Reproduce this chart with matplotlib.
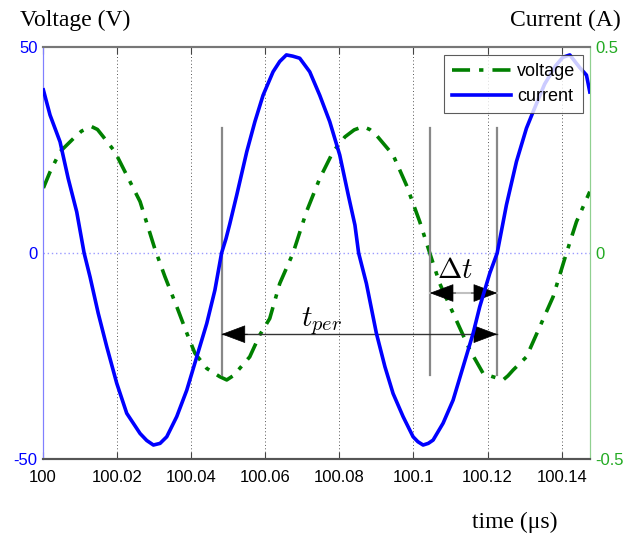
import numpy as np
import matplotlib
matplotlib.use('Agg')
import matplotlib.pyplot as plt

plt.rcParams['font.family'] = ['Liberation Sans', 'DejaVu Sans']
plt.rcParams['mathtext.fontset'] = 'cm'
plt.rcParams['axes.unicode_minus'] = False

# voltage (V)
t_volt = [100.0001, 100.0019, 100.0046, 100.0082, 100.0104, 100.0118, 100.0131, 100.0147,
          100.0163, 100.0194, 100.0226, 100.0262, 100.0302, 100.0329, 100.0361, 100.0388,
          100.0410, 100.0442, 100.0477, 100.0496, 100.0513, 100.0531, 100.0558, 100.0585,
          100.0612, 100.0639, 100.0675, 100.0711, 100.0747, 100.0783, 100.0815, 100.0840,
          100.0864, 100.0882, 100.0900, 100.0945, 100.0981, 100.1017, 100.1044, 100.1071,
          100.1107, 100.1152, 100.1188, 100.1210, 100.1242, 100.1255, 100.1269, 100.1305,
          100.1341, 100.1377, 100.1413, 100.1440, 100.1476]
volt = [15.8, 19.7, 24.6, 27.8, 29.6, 30.2, 30.7, 30.0,
        28.2, 24.6, 18.9, 12.5, 1.0, -5.7, -13.0, -19.4,
        -24.3, -28.0, -30.0, -30.8, -29.8, -28.0, -25.2, -19.9,
        -15.9, -7.4, 0.0, 10.0, 18.1, 24.6, 28.2, 29.9,
        30.7, 30.0, 28.6, 23.8, 16.5, 7.6, 0.0, -7.4,
        -14.6, -23.5, -29.2, -29.9, -30.8, -29.8, -28.4, -25.2,
        -17.9, -10.6, 0.0, 7.6, 14.9]

# current (A)
t_curr = [100.0001, 100.0019, 100.0046, 100.0068, 100.0091, 100.0111, 100.0127, 100.0149,
          100.0172, 100.0199, 100.0226, 100.0262, 100.0280, 100.0298, 100.0316, 100.0334,
          100.0361, 100.0388, 100.0415, 100.0442, 100.0464, 100.0482, 100.0494, 100.0504,
          100.0523, 100.0550, 100.0572, 100.0594, 100.0621, 100.0639, 100.0657, 100.0674,
          100.0693, 100.0720, 100.0747, 100.0774, 100.0801, 100.0824, 100.0842, 100.0852,
          100.0873, 100.0900, 100.0923, 100.0945, 100.0972, 100.0999, 100.1012, 100.1026,
          100.1040, 100.1053, 100.1080, 100.1107, 100.1134, 100.1161, 100.1179, 100.1206,
          100.1226, 100.1251, 100.1278, 100.1305, 100.1323, 100.1354, 100.1384, 100.1403,
          100.1422, 100.1449, 100.1467, 100.1476]
curr = [0.396, 0.335, 0.270, 0.181, 0.100, 0.000, -0.058, -0.146,
        -0.227, -0.316, -0.389, -0.438, -0.455, -0.466, -0.462, -0.446,
        -0.397, -0.333, -0.252, -0.171, -0.090, 0.000, 0.035, 0.070,
        0.141, 0.246, 0.319, 0.383, 0.440, 0.465, 0.481, 0.478,
        0.473, 0.440, 0.383, 0.319, 0.238, 0.141, 0.068, 0.000,
        -0.074, -0.195, -0.276, -0.341, -0.397, -0.446, -0.458, -0.466,
        -0.462, -0.454, -0.413, -0.357, -0.276, -0.195, -0.130, -0.049,
        0.000, 0.117, 0.222, 0.303, 0.343, 0.410, 0.455, 0.475,
        0.481, 0.450, 0.432, 0.391]

x_ticks = [100, 100.02, 100.04, 100.06, 100.08, 100.1, 100.12, 100.14]
x_labels = ['100', '100.02', '100.04', '100.06', '100.08', '100.1', '100.12', '100.14']

# markers: current zero crossings and voltage zero crossing
t_i0 = [100.0482, 100.1226]
t_v0 = 100.1044

green = '#008000'
blue = '#0000ff'

fig = plt.figure(figsize=(6.39, 5.35), dpi=100)
ax = fig.add_axes([0.0673, 0.142, 0.8557, 0.770])
ax2 = ax.twinx()

lv, = ax.plot(t_volt, volt, color=green, lw=2.6, ls=(0, (5, 2.5, 1.2, 2.5)), label='voltage', zorder=3)
li, = ax2.plot(t_curr, curr, color=blue, lw=2.6, label='current', zorder=3)

ax.set_xlim(100, 100.1476)
ax.set_ylim(-50, 50)
ax2.set_ylim(-0.5, 0.5)
ax.set_xticks(x_ticks)
ax.set_xticklabels(x_labels)
ax.set_yticks([-50, 0, 50])
ax.set_yticklabels(['-50', '0', '50'])
ax2.set_yticks([-0.5, 0, 0.5])
ax2.set_yticklabels(['-0.5', '0', '0.5'])

for xt in x_ticks[1:]:
    ax.axvline(xt, color='#555555', lw=0.7, ls=(0, (1, 2.5)), zorder=1)
ax.axhline(0, color='#9a9aff', lw=1.0, ls=(0, (1, 2)), zorder=1)

ax.tick_params(axis='x', direction='in', top=True, labelsize=12, pad=8, length=5, color='#444444')
ax.tick_params(axis='y', direction='in', labelsize=12, labelcolor=blue, colors=blue, length=0, pad=4)
ax2.tick_params(axis='y', direction='in', labelsize=12, labelcolor='#22aa22', length=0, pad=4)

for a in (ax, ax2):
    a.spines['top'].set_color('#777777')
    a.spines['bottom'].set_color('#555555')
    a.spines['top'].set_linewidth(1.5)
    a.spines['bottom'].set_linewidth(1.5)
    a.spines['left'].set_color('#8080ff')
    a.spines['right'].set_color('#90d090')

# annotation lines
for tx in [t_i0[0], t_v0, t_i0[1]]:
    ax.plot([tx, tx], [-29.6, 30.3], color='#888888', lw=1.6, zorder=4)

ax.plot([t_i0[0], t_i0[1]], [-19.7, -19.7], color='#333333', lw=1.0, zorder=4)
ax.plot([t_v0, t_i0[1]], [-9.7, -9.7], color='#c0c0c0', lw=1.5, zorder=4)

aprops = dict(arrowstyle='-|>,head_length=0.8,head_width=0.3', color='black',
              mutation_scale=20, shrinkA=0, shrinkB=0, lw=0.5)
ax.annotate('', xy=(t_i0[0], -19.7), xytext=(t_i0[0] + 0.007, -19.7), arrowprops=aprops, zorder=5)
ax.annotate('', xy=(t_i0[1], -19.7), xytext=(t_i0[1] - 0.007, -19.7), arrowprops=aprops, zorder=5)
ax.annotate('', xy=(t_v0, -9.7), xytext=(t_v0 + 0.007, -9.7), arrowprops=aprops, zorder=5)
ax.annotate('', xy=(t_i0[1], -9.7), xytext=(t_i0[1] - 0.007, -9.7), arrowprops=aprops, zorder=5)

ax.text(100.0753, -16.5, r'$t_{per}$', fontsize=21, ha='center', va='center', zorder=6)
ax.text(100.1111, -4.0, r'$\Delta t$', fontsize=21, ha='center', va='center', zorder=6)

leg = ax2.legend([lv, li], ['voltage', 'current'], loc='upper right', bbox_to_anchor=(0.988, 0.981),
                 borderaxespad=0, fontsize=13, frameon=True, fancybox=False, edgecolor='#333333',
                 handlelength=3.3, borderpad=0.45, labelspacing=0.45, handletextpad=0.3)
leg.get_frame().set_linewidth(0.8)
leg.set_zorder(10)

fig.text(0.031, 0.962, 'Voltage (V)', family='Liberation Serif', fontsize=17, ha='left', va='center')
fig.text(0.972, 0.962, 'Current (A)', family='Liberation Serif', fontsize=17, ha='right', va='center')
fig.text(0.806, 0.023, 'time (\u03bcs)', family='Liberation Serif', fontsize=17, ha='center', va='center')

fig.savefig('out.png', dpi=100)
